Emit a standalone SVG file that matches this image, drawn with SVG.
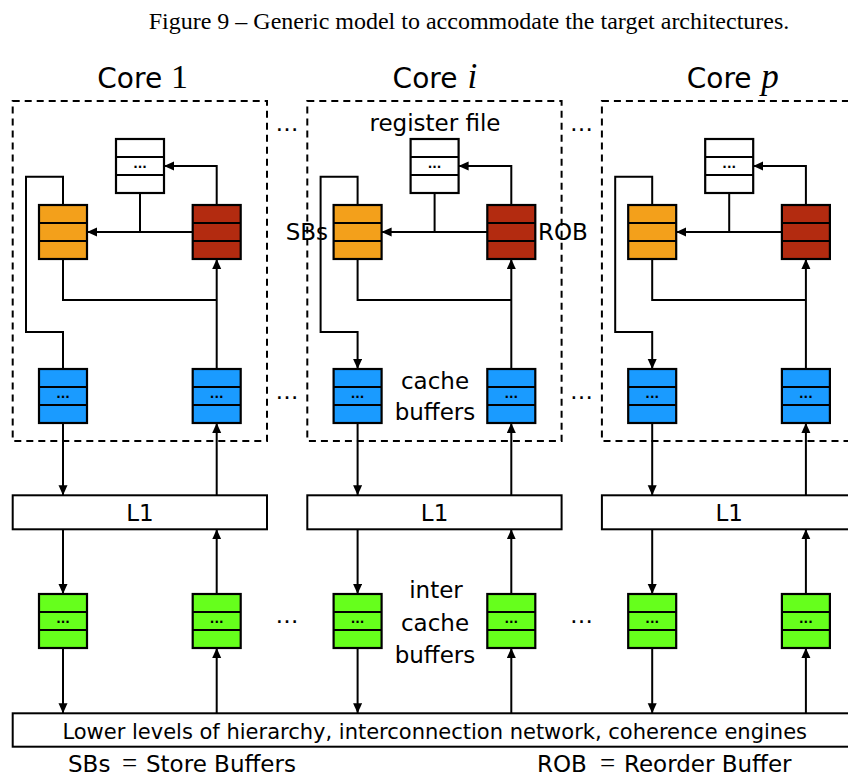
<svg xmlns="http://www.w3.org/2000/svg" width="848" height="780" viewBox="0 0 848 780">
<style>
text{font-family:"DejaVu Sans","Liberation Sans",sans-serif;fill:#000}
.cap{font-family:"Liberation Serif","Times New Roman",serif;font-size:24px}
.ttl{font-size:28px}
.m{font-family:"Liberation Serif","Times New Roman",serif;font-size:34px}
.mi{font-family:"Liberation Serif","Times New Roman",serif;font-size:35px;font-style:italic}
.lbl{font-size:23px}
.mid{text-anchor:middle}
.dots{font-size:12px;font-weight:bold;text-anchor:middle}
.core{fill:none;stroke:#000;stroke-width:2;stroke-dasharray:7,5}
.box{fill:#fff;stroke:#000;stroke-width:2}
.buf rect{stroke:#000;stroke-width:2.2}
.div{stroke:#000;stroke-width:2;fill:none}
.rf rect{fill:#fff}
.sb rect{fill:#F3A01B}
.rob rect{fill:#B32B10}
.cb rect{fill:#1A9BFF}
.ib rect{fill:#66FF1C}
.ln{fill:none;stroke:#000;stroke-width:2}
.ft{font-size:23px}
.eq{font-family:"Liberation Serif","Times New Roman",serif;font-size:27px}
</style>
<defs>
<marker id="ah" markerUnits="userSpaceOnUse" markerWidth="10" markerHeight="10" refX="10" refY="4.5" orient="auto">
<path d="M0,0L10,4.5L0,9z" fill="#000"/>
</marker>
</defs>
<rect width="848" height="780" fill="#fff"/>
<text class="cap mid" x="469" y="29">Figure 9 – Generic model to accommodate the target architectures.</text>

<!-- Core 1 -->
<g id="core1">
<rect class="core" x="12.7" y="101" width="254.3" height="340"/>
<text class="ttl" x="97.3" y="88">Core <tspan class="m" x="171">1</tspan></text>
<g id="c1-rf" class="buf rf"><rect x="116" y="139" width="48" height="54"/><path class="div" d="M116,157H164M116,175H164"/><text class="dots" x="140" y="168">...</text></g>
<g id="c1-sb" class="buf sb"><rect x="39" y="205" width="48" height="54"/><path class="div" d="M39,223H87M39,241H87"/></g>
<g id="c1-rob" class="buf rob"><rect x="192.7" y="205" width="48" height="54"/><path class="div" d="M192.7,223H240.7M192.7,241H240.7"/></g>
<g id="c1-cbl" class="buf cb"><rect x="39" y="369" width="48" height="54"/><path class="div" d="M39,387H87M39,405H87"/><text class="dots" x="63" y="398">...</text></g>
<g id="c1-cbr" class="buf cb"><rect x="192.7" y="369" width="48" height="54"/><path class="div" d="M192.7,387H240.7M192.7,405H240.7"/><text class="dots" x="216.7" y="398">...</text></g>
<g id="c1-l1"><rect class="box" x="12.7" y="495.3" width="254.3" height="34"/><text class="lbl mid" x="140" y="521">L1</text></g>
<g id="c1-ibl" class="buf ib"><rect x="39" y="594" width="48" height="54"/><path class="div" d="M39,612H87M39,630H87"/><text class="dots" x="63" y="623">...</text></g>
<g id="c1-ibr" class="buf ib"><rect x="192.7" y="594" width="48" height="54"/><path class="div" d="M192.7,612H240.7M192.7,630H240.7"/><text class="dots" x="216.7" y="623">...</text></g>
</g>

<!-- Core i -->
<g id="corei" transform="translate(294.6,0)">
<rect class="core" x="12.7" y="101" width="254.3" height="340"/>
<text class="ttl" x="98" y="88">Core <tspan class="mi" x="173">i</tspan></text>
<g id="ci-rf" class="buf rf"><rect x="116" y="139" width="48" height="54"/><path class="div" d="M116,157H164M116,175H164"/><text class="dots" x="140" y="168">...</text></g>
<g id="ci-sb" class="buf sb"><rect x="39" y="205" width="48" height="54"/><path class="div" d="M39,223H87M39,241H87"/></g>
<g id="ci-rob" class="buf rob"><rect x="192.7" y="205" width="48" height="54"/><path class="div" d="M192.7,223H240.7M192.7,241H240.7"/></g>
<g id="ci-cbl" class="buf cb"><rect x="39" y="369" width="48" height="54"/><path class="div" d="M39,387H87M39,405H87"/><text class="dots" x="63" y="398">...</text></g>
<g id="ci-cbr" class="buf cb"><rect x="192.7" y="369" width="48" height="54"/><path class="div" d="M192.7,387H240.7M192.7,405H240.7"/><text class="dots" x="216.7" y="398">...</text></g>
<g id="ci-l1"><rect class="box" x="12.7" y="495.3" width="254.3" height="34"/><text class="lbl mid" x="140" y="521">L1</text></g>
<g id="ci-ibl" class="buf ib"><rect x="39" y="594" width="48" height="54"/><path class="div" d="M39,612H87M39,630H87"/><text class="dots" x="63" y="623">...</text></g>
<g id="ci-ibr" class="buf ib"><rect x="192.7" y="594" width="48" height="54"/><path class="div" d="M192.7,612H240.7M192.7,630H240.7"/><text class="dots" x="216.7" y="623">...</text></g>
</g>

<!-- Core p -->
<g id="corep" transform="translate(589.2,0)">
<rect class="core" x="12.7" y="101" width="254.3" height="340"/>
<text class="ttl" x="97.5" y="88">Core <tspan class="mi" x="172">p</tspan></text>
<g id="cp-rf" class="buf rf"><rect x="116" y="139" width="48" height="54"/><path class="div" d="M116,157H164M116,175H164"/><text class="dots" x="140" y="168">...</text></g>
<g id="cp-sb" class="buf sb"><rect x="39" y="205" width="48" height="54"/><path class="div" d="M39,223H87M39,241H87"/></g>
<g id="cp-rob" class="buf rob"><rect x="192.7" y="205" width="48" height="54"/><path class="div" d="M192.7,223H240.7M192.7,241H240.7"/></g>
<g id="cp-cbl" class="buf cb"><rect x="39" y="369" width="48" height="54"/><path class="div" d="M39,387H87M39,405H87"/><text class="dots" x="63" y="398">...</text></g>
<g id="cp-cbr" class="buf cb"><rect x="192.7" y="369" width="48" height="54"/><path class="div" d="M192.7,387H240.7M192.7,405H240.7"/><text class="dots" x="216.7" y="398">...</text></g>
<g id="cp-l1"><rect class="box" x="12.7" y="495.3" width="254.3" height="34"/><text class="lbl mid" x="140" y="521">L1</text></g>
<g id="cp-ibl" class="buf ib"><rect x="39" y="594" width="48" height="54"/><path class="div" d="M39,612H87M39,630H87"/><text class="dots" x="63" y="623">...</text></g>
<g id="cp-ibr" class="buf ib"><rect x="192.7" y="594" width="48" height="54"/><path class="div" d="M192.7,612H240.7M192.7,630H240.7"/><text class="dots" x="216.7" y="623">...</text></g>
</g>

<g id="lower"><rect class="box" x="12.7" y="713.3" width="845" height="33.4"/><text x="434.7" y="739" class="mid" font-size="21">Lower levels of hierarchy, interconnection network, coherence engines</text></g>

<!-- labels -->
<g id="labels">
<text class="lbl mid" x="435" y="131">register file</text>
<text class="lbl" x="328" y="240" text-anchor="end">SBs</text>
<text class="lbl" x="538" y="240">ROB</text>
<text class="lbl mid" x="435" y="389">cache</text>
<text class="lbl mid" x="435" y="420">buffers</text>
<text class="lbl mid" x="436" y="598">inter</text>
<text class="lbl mid" x="435" y="630.5">cache</text>
<text class="lbl mid" x="435" y="663">buffers</text>
<text class="lbl mid" x="287" y="131">…</text>
<text class="lbl mid" x="581.6" y="131">…</text>
<text class="lbl mid" x="287" y="399">…</text>
<text class="lbl mid" x="581.6" y="399">…</text>
<text class="lbl mid" x="287" y="623">…</text>
<text class="lbl mid" x="581.6" y="623">…</text>
<text class="ft" x="68" y="772">SBs <tspan class="eq" x="122">=</tspan><tspan x="146">Store Buffers</tspan></text>
<text class="ft" x="537" y="772">ROB <tspan class="eq" x="600">=</tspan><tspan x="624">Reorder Buffer</tspan></text>
</g>

<!-- connectors -->
<g id="connectors">
<g transform="translate(0,0)">
<path class="ln" d="M216.7,205V166H164" marker-end="url(#ah)"/>
<path class="ln" d="M140,193V232"/>
<path class="ln" d="M192.7,232H87" marker-end="url(#ah)"/>
<path class="ln" d="M63,205V176.7H26V332H63V369"/>
<path class="ln" d="M63,259V300H216.7"/>
<path class="ln" d="M216.7,369V259" marker-end="url(#ah)"/>
<path class="ln" d="M63,423V495.3" marker-end="url(#ah)"/>
<path class="ln" d="M216.7,495.3V423" marker-end="url(#ah)"/>
<path class="ln" d="M63,529.3V594" marker-end="url(#ah)"/>
<path class="ln" d="M216.7,594V529.3" marker-end="url(#ah)"/>
<path class="ln" d="M63,648V713.3" marker-end="url(#ah)"/>
<path class="ln" d="M216.7,713.3V648" marker-end="url(#ah)"/>
</g>
<g transform="translate(294.6,0)">
<path class="ln" d="M216.7,205V166H164" marker-end="url(#ah)"/>
<path class="ln" d="M140,193V232"/>
<path class="ln" d="M192.7,232H87" marker-end="url(#ah)"/>
<path class="ln" d="M63,205V176.7H26V332H63V369" marker-end="url(#ah)"/>
<path class="ln" d="M63,259V300H216.7"/>
<path class="ln" d="M216.7,369V259" marker-end="url(#ah)"/>
<path class="ln" d="M63,423V495.3" marker-end="url(#ah)"/>
<path class="ln" d="M216.7,495.3V423" marker-end="url(#ah)"/>
<path class="ln" d="M63,529.3V594" marker-end="url(#ah)"/>
<path class="ln" d="M216.7,594V529.3" marker-end="url(#ah)"/>
<path class="ln" d="M63,648V713.3" marker-end="url(#ah)"/>
<path class="ln" d="M216.7,713.3V648" marker-end="url(#ah)"/>
</g>
<g transform="translate(589.2,0)">
<path class="ln" d="M216.7,205V166H164" marker-end="url(#ah)"/>
<path class="ln" d="M140,193V232"/>
<path class="ln" d="M192.7,232H87" marker-end="url(#ah)"/>
<path class="ln" d="M63,205V176.7H26V332H63V369" marker-end="url(#ah)"/>
<path class="ln" d="M63,259V300H216.7"/>
<path class="ln" d="M216.7,369V259" marker-end="url(#ah)"/>
<path class="ln" d="M63,423V495.3" marker-end="url(#ah)"/>
<path class="ln" d="M216.7,495.3V423" marker-end="url(#ah)"/>
<path class="ln" d="M63,529.3V594" marker-end="url(#ah)"/>
<path class="ln" d="M216.7,594V529.3" marker-end="url(#ah)"/>
<path class="ln" d="M63,648V713.3" marker-end="url(#ah)"/>
<path class="ln" d="M216.7,713.3V648" marker-end="url(#ah)"/>
</g>
</g>
</svg>
